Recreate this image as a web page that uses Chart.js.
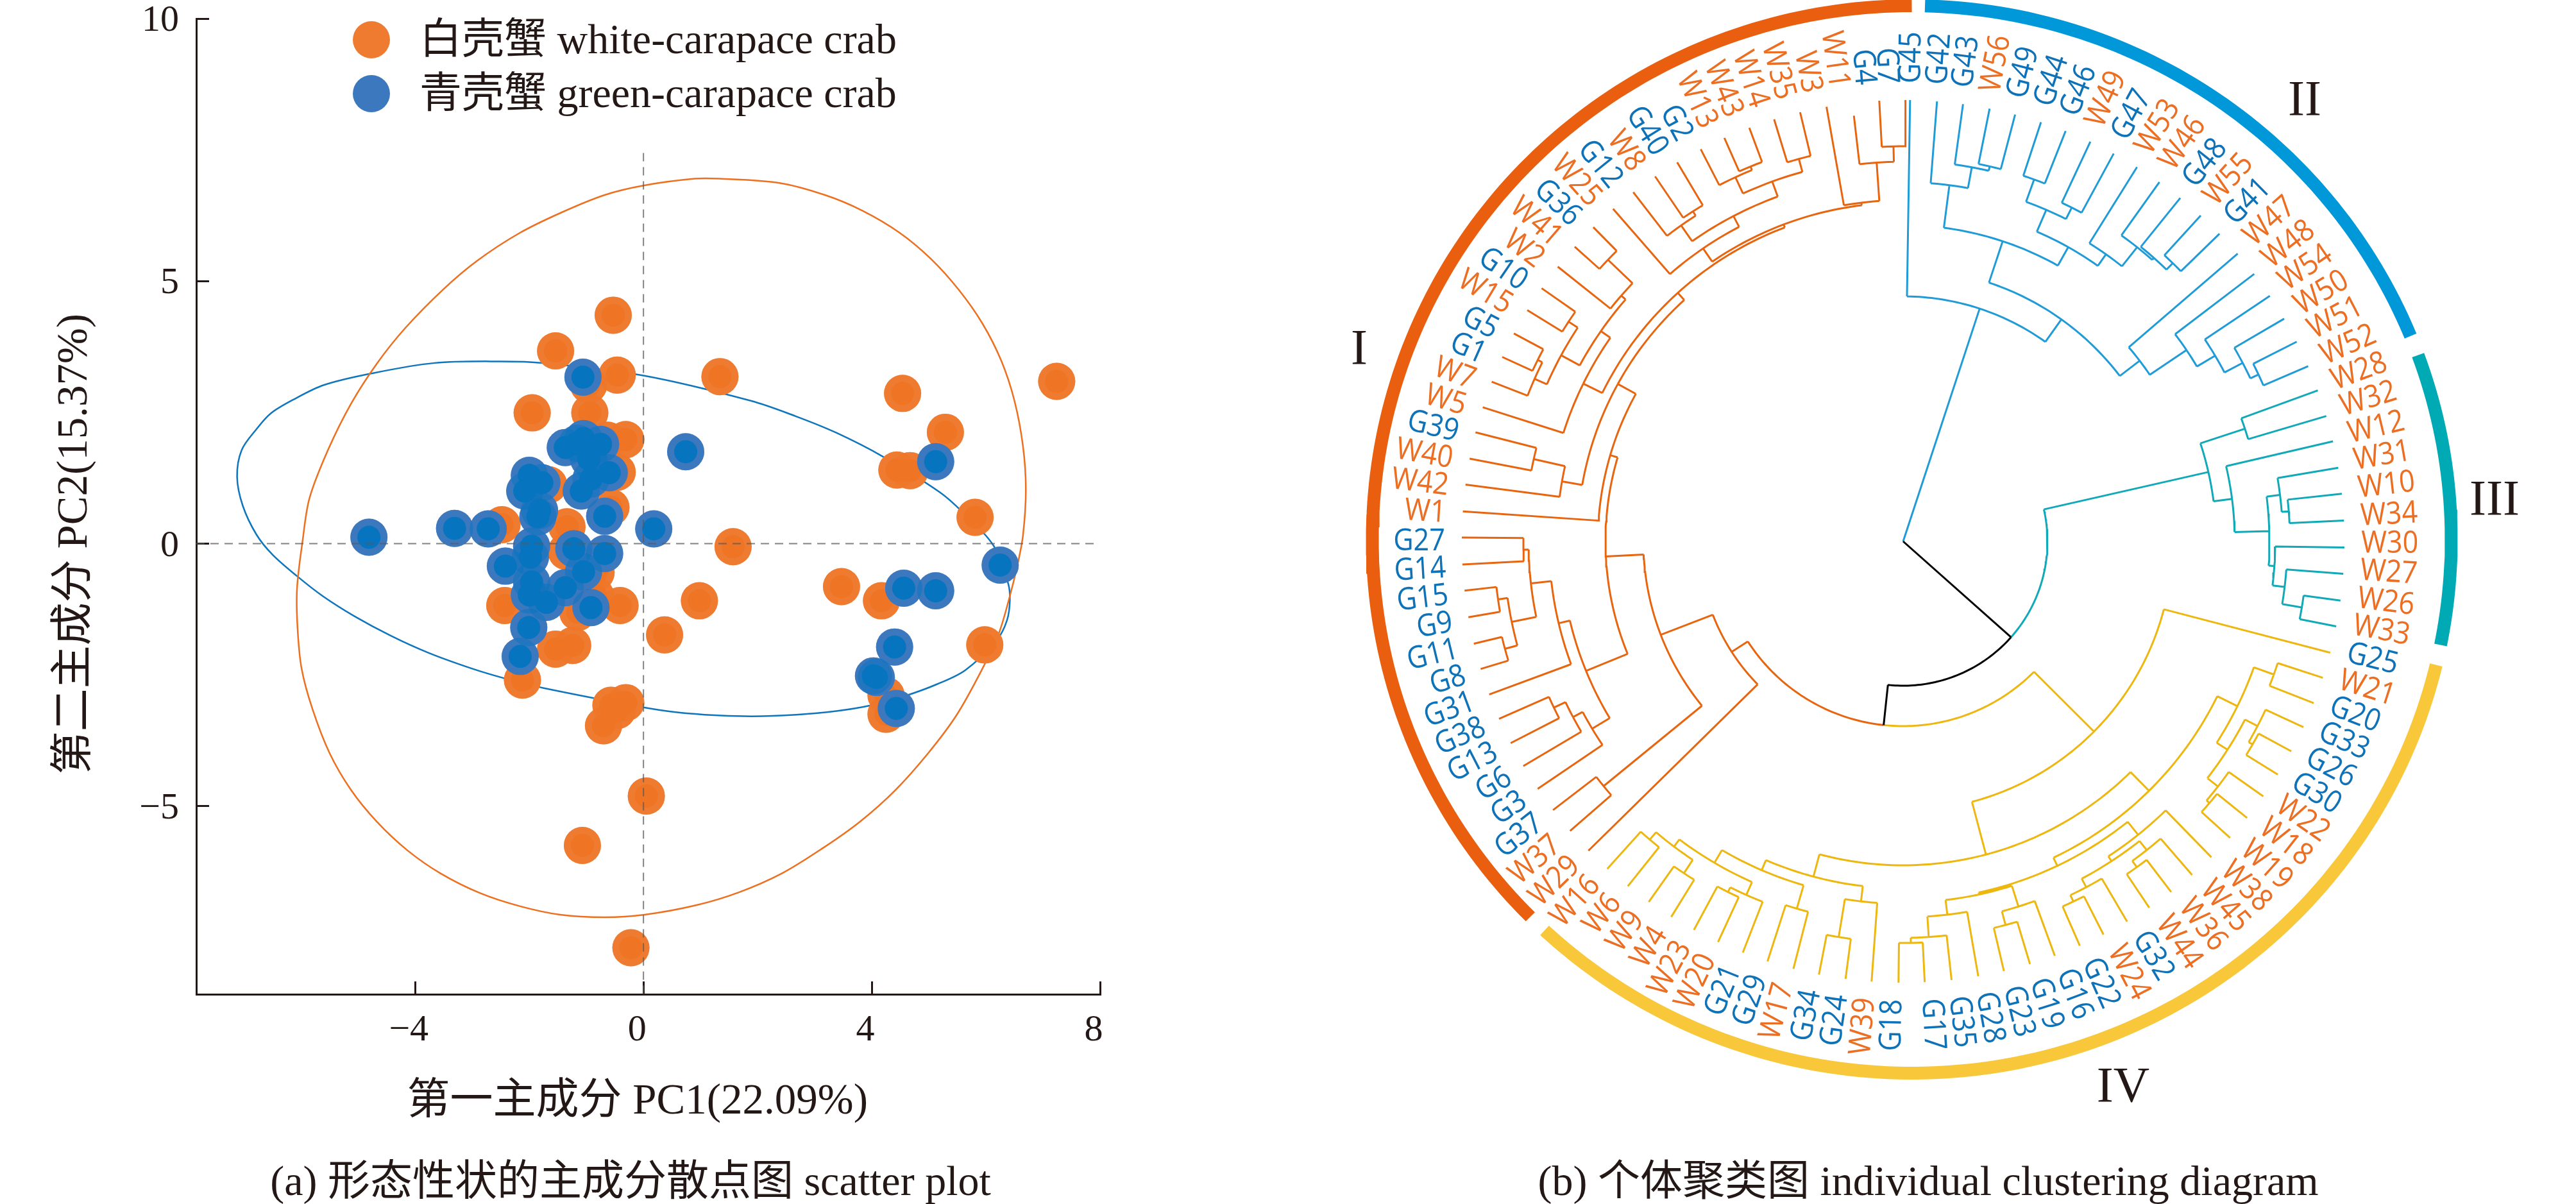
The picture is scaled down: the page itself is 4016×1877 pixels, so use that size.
<!DOCTYPE html>
<html lang="zh">
<head>
<meta charset="utf-8">
<title>形态性状的主成分散点图与个体聚类图</title>
<script src="https://cdn.jsdelivr.net/npm/chart.js@4"></script>
<style>
  html, body { margin: 0; background: #fff; }
  #page { position: relative; width: 4016px; height: 1877px; overflow: hidden; }
  canvas { position: absolute; top: 0; }
  #scatter { left: 0; }
  #tree { left: 2016px; }
  .caption {
    position: absolute; top: 1800px; transform: translateX(-50%); white-space: nowrap;
    font: 66px "Liberation Serif", "Noto Sans CJK SC"; line-height: 82px; color: #231815;
  }
</style>
</head>
<body>
<div id="page">
  <canvas id="scatter" width="2016" height="1877"></canvas>
  <canvas id="tree" width="2000" height="1877"></canvas>
  <div class="caption" style="left:983px">(a) 形态性状的主成分散点图 scatter plot</div>
  <div class="caption" style="left:3006px">(b) 个体聚类图 individual clustering diagram</div>
</div>
<script>
// Datos del gráfico (a)
const whiteX = [-0.53, -1.54, -0.46, 1.34, -0.96, -0.94, -1.95, -0.31, -0.63, -0.46, -1.66, -0.57, -2.48, -1.34, -1.35, 1.57, -0.83, 3.47, 4.17, 0.98, -0.41, -2.43, -1.15, 0.37, -1.54, -1.24, -2.12, 5.98, 5.81, 4.44, 4.67, 5.29, 4.54, 7.24, -0.31, -0.57, -0.46, -0.70, 0.05, -1.07, -0.22, 4.25, 4.25, -0.84];
const whiteY = [4.35, 3.67, 3.21, 3.18, 3.02, 2.49, 2.49, 1.98, 1.97, 1.36, 1.12, 0.69, 0.36, 0.32, -0.15, -0.06, -0.55, -0.82, -1.09, -1.09, -1.18, -1.18, -1.31, -1.74, -2.01, -1.94, -2.60, -1.93, 0.50, 1.40, 1.39, 2.12, 2.86, 3.09, -3.03, -3.08, -3.18, -3.47, -4.81, -5.75, -7.70, -2.89, -3.25, -0.99];
const greenX = [-4.81, -3.31, -2.72, -1.06, 0.74, 0.18, 5.12, 6.25, 4.56, 5.12, 4.40, 4.03, 4.08, 4.43, -1.37, -1.16, -1.05, -0.75, -0.96, -0.60, -0.92, -1.09, -2.00, -1.78, -2.08, -1.82, -1.85, -0.68, -1.96, -1.98, -1.22, -0.68, -2.42, -1.05, -1.37, -1.96, -2.00, -1.70, -0.92, -2.01, -2.16];
const greenY = [0.12, 0.29, 0.28, 3.17, 1.75, 0.28, 1.56, -0.41, -0.85, -0.90, -1.97, -2.52, -2.55, -3.14, 1.83, 1.91, 2.00, 1.89, 1.61, 1.35, 1.23, 1.00, 1.30, 1.16, 1.00, 0.63, 0.51, 0.52, -0.05, -0.26, -0.10, -0.19, -0.43, -0.54, -0.84, -0.73, -0.98, -1.12, -1.22, -1.60, -2.15];

// Contornos de las elipses
const whiteEllipseX = [1.33, 2.38, 3.18, 3.84, 4.49, 5.04, 5.52, 5.94, 6.27, 6.50, 6.65, 6.70, 6.65, 6.55, 6.40, 6.22, 5.94, 5.49, 4.99, 4.41, 3.79, 3.13, 2.43, 1.68, 0.92, 0.02, -0.68, -1.46, -2.16, -2.86, -3.56, -4.14, -4.67, -5.12, -5.50, -5.80, -5.99, -6.06, -6.07, -5.97, -5.85, -5.52, -5.12, -4.67, -4.17, -3.51, -2.91, -2.18, -1.43, -0.68, 0, 0.90];
const whiteEllipseY = [6.95, 6.87, 6.64, 6.34, 5.92, 5.42, 4.84, 4.19, 3.48, 2.72, 1.85, 1.03, 0.16, -0.42, -1.08, -1.73, -2.38, -3.26, -3.99, -4.70, -5.30, -5.81, -6.28, -6.64, -6.89, -7.07, -7.12, -7.07, -6.91, -6.66, -6.28, -5.84, -5.30, -4.70, -3.99, -3.15, -2.38, -1.62, -0.86, 0.07, 0.87, 1.80, 2.67, 3.43, 4.11, 4.84, 5.39, 5.91, 6.31, 6.64, 6.82, 6.95];
const greenEllipseX = [-7.04, -6.78, -6.53, -6.12, -5.60, -4.77, -3.66, -2.51, -1.76, 0, 1.88, 2.68, 3.38, 4.19, 5.19, 5.59, 6.14, 6.39, 6.42, 6.37, 6.19, 5.64, 5.14, 4.59, 3.99, 3.38, 2.68, 1.90, 1.07, 0.27, -1.76, -2.46, -3.01, -3.77, -4.42, -5.07, -5.62, -6.07, -6.50, -6.78, -7.02, -7.12];
const greenEllipseY = [1.78, 2.18, 2.48, 2.75, 3.02, 3.24, 3.44, 3.47, 3.44, 3.20, 2.72, 2.42, 2.11, 1.66, 0.98, 0.60, -0.05, -0.76, -1.08, -1.46, -1.84, -2.41, -2.68, -2.90, -3.08, -3.19, -3.26, -3.29, -3.26, -3.17, -2.75, -2.56, -2.38, -2.08, -1.76, -1.38, -1.00, -0.62, -0.21, 0.17, 0.72, 1.27];

const xTicks = [-4, 0, 4, 8];
const yTicks = [-5, 0, 5, 10];
const legendNames = ['白壳蟹 white-carapace crab', '青壳蟹 green-carapace crab'];

// Datos del gráfico (b): hojas en sentido horario, ángulos en grados desde el norte
const leafNames = ['G45', 'G42', 'G43', 'W56', 'G49', 'G44', 'G46', 'W49', 'G47', 'W53', 'W46', 'G48', 'W55', 'G41', 'W47', 'W48', 'W54', 'W50', 'W51', 'W52', 'W28', 'W32', 'W12', 'W31', 'W10', 'W34', 'W30', 'W27', 'W26', 'W33', 'G25', 'W21', 'G20', 'G33', 'G26', 'G30', 'W22', 'W18', 'W19', 'W38', 'W45', 'W36', 'W44', 'G32', 'W24', 'G22', 'G16', 'G19', 'G23', 'G28', 'G35', 'G17', 'G18', 'W39', 'G24', 'G34', 'W17', 'G29', 'G21', 'W20', 'W23', 'W4', 'W9', 'W6', 'W16', 'W29', 'W37', 'G37', 'G3', 'G6', 'G13', 'G38', 'G31', 'G8', 'G11', 'G9', 'G15', 'G14', 'G27', 'W1', 'W42', 'W40', 'G39', 'W5', 'W7', 'G1', 'G5', 'W15', 'G10', 'W2', 'W41', 'G36', 'W25', 'G12', 'W8', 'G40', 'G2', 'W13', 'W43', 'W14', 'W35', 'W3', 'W11', 'G4', 'G7'];
const leafAngles = [0.9, 4.4, 7.8, 11.3, 14.7, 18.2, 21.6, 25.1, 28.5, 32.0, 35.5, 38.9, 42.4, 45.8, 49.3, 52.7, 56.2, 59.7, 63.1, 66.6, 70.0, 73.5, 76.9, 80.4, 83.8, 87.3, 90.8, 94.2, 97.7, 101.1, 104.6, 108.0, 111.5, 114.9, 118.4, 121.9, 125.3, 128.8, 132.2, 135.7, 139.1, 142.6, 146.1, 149.5, 153.0, 156.4, 159.9, 163.3, 166.8, 170.2, 173.7, 177.2, 180.6, 184.1, 187.5, 191.0, 194.4, 197.9, 201.3, 204.8, 208.3, 211.7, 215.2, 218.6, 222.1, 225.5, 229.0, 232.5, 235.9, 239.4, 242.8, 246.3, 249.7, 253.2, 256.6, 260.1, 263.6, 267.0, 270.5, 273.9, 277.4, 280.8, 284.3, 287.7, 291.2, 294.7, 298.1, 301.6, 305.0, 308.5, 311.9, 315.4, 318.9, 322.3, 325.8, 329.2, 332.7, 336.1, 339.6, 343.0, 346.5, 350.0, 353.4, 356.9, 360.3];
const labelAngles = [1.0, 4.3, 7.5, 11, 14.4, 17.9, 21.3, 24.7, 28.2, 31.6, 35.1, 38.6, 42, 45.4, 48.9, 52.4, 55.8, 59.3, 62.7, 66.2, 69.6, 73, 76.5, 79.9, 83.4, 86.9, 90.3, 93.7, 97.2, 100.6, 104.1, 107.6, 111, 114.4, 117.9, 121.4, 124.8, 128.2, 131.7, 135.2, 138.6, 142, 145.5, 148.9, 152.4, 155.9, 159.3, 162.8, 166.2, 169.7, 173.1, 176.5, 181.3, 184.7, 188.1, 191.5, 195, 198.4, 201.8, 205.2, 208.6, 212, 215.4, 218.9, 222.3, 225.7, 229.1, 232.5, 235.9, 239.3, 242.8, 246.2, 249.6, 253, 256.4, 259.8, 263.2, 266.6, 270, 273.5, 276.9, 280.3, 283.7, 287.1, 290.5, 293.9, 297.3, 300.8, 304.2, 307.6, 311, 314.4, 317.8, 321.2, 324.6, 328, 331.5, 334.9, 338.3, 341.7, 345.1, 348.5, 351.9, 355.2, 358.0];

// Ramas: [altura, hijo, hijo]
const cladeI = [318, 'W29', [405,
  [603, 'W37', 'G37'],
  [464,
    [534,
      [566, 'G3', [583, 'G6', [603, 'G13', 'G38']]],
      [552, 'G31', [584, [623, [643, 'G8', 'G11'], [638, 'G9', 'G15']], [592, 'G14', 'G27']]]
    ],
    [476, 'W1', [508,
      [540, 'W42', [590, 'W40', 'G39']],
      [523,
        [556, 'W5', [574, [607, [628, 'W7', [636, 'G1', 'G5']], [624, 'W15', 'G10']], [583, 'W2', [636, 'W41', 'G36']]]],
        [528,
          [553, 'W25', [572, [602, 'G12', [610, 'W8', 'G40']], [597, [625, 'G2', [631, 'W13', 'W43']], [618, 'W14', 'W35']]]],
          [532, 'W3', [592, 'W11', [616, 'G4', 'G7']]]
        ]
      ]
    ]]
  ]
]];
const cladeII = [382, 'G45', [425,
  [493,
    [560, 'G42', [593, 'G43', [600, 'W56', 'G49']]],
    [526,
      [563, [600, 'G44', 'G46'], [583, 'W49', 'G47']],
      [548, 'W53', [586, 'W46', [590, 'G48', [604, 'W55', 'G41']]]]
    ]
  ],
  [464, 'W47', [533, 'W48', [566, 'W54', [598, 'W50', [612, 'W51', 'W52']]]]]
]];
const cladeIII = [488,
  [561, 'W28', 'W32'],
  [517, 'W12', [571, [592, 'W31', [603, 'W10', 'W34']], [580, 'W30', [599, 'W27', [630, 'W26', 'W33']]]]]
];
const cladeIV = [420, 'G25', [505,
  [546,
    [581, [614, 'W21', 'G20'], [601, [623, 'G33', [630, 'G26', 'G30']], [622, 'W22', [628, 'W18', 'W19']]]],
    [560,
      [586, 'W38', [595, [613, 'W45', [625, 'W36', 'W44']], [610, 'G32', [621, 'W24', 'G22']]]],
      [563,
        [597, 'G16', [619, 'G19', 'G23']],
        [586, 'G28', [618, 'G35', [626, 'G17', 'G18']]]
      ]
    ]
  ],
  [541,
    [565, 'W39', [625, 'G24', 'G34']],
    [558, [596, 'W17', 'G29'], [581, [603, 'G21', [611, 'W20', 'W23']], [595, [620, 'W4', 'W9'], [610, 'W6', 'W16']]]]
  ]
]];
const treeRoot = [0, cladeII, [225, cladeIII, [288, cladeIV, cladeI]]];
const leafTip = 688;
const shortLeaves = { W11: 668 };

// Arcos exteriores y sus rótulos
const rimNames = ['I', 'II', 'III', 'IV'];
const rimStart = [225, 1.4, 69.8, 103.6];
const rimEnd = [360, 67.6, 101.4, 222.9];
const rimLabelX = [-848, 626, 922, 343];
const rimLabelY = [297, 685, 62, -853];

const serif = '"Liberation Serif", "Noto Sans CJK SC"';
const inkColor = '#231815';
const whiteColor = '#EE7B30';
const greenColor = '#3C78BE';
const rimColors = ['#E95E0F', '#0098D8', '#00AAB5', '#F9C73A'];
const branchColors = ['#E8650F', '#1F9BD7', '#10A9B8', '#EDB70F'];
const cladeColor = new Map([[cladeI, branchColors[0]], [cladeII, branchColors[1]], [cladeIII, branchColors[2]], [cladeIV, branchColors[3]]]);

const zip = (xs, ys) => xs.map((x, i) => ({ x: x, y: ys[i] }));

// Gráfico (a)
const xMin = -7.835;
const yMin = -8.585;

const dots = (xs, ys, color, radius, order, label) => ({
  label: label,
  data: zip(xs, ys),
  order: order,
  backgroundColor: color,
  borderWidth: 0,
  pointRadius: radius
});

const outline = (xs, ys, color, order) => ({
  data: zip(xs, ys),
  order: order,
  showLine: true,
  borderColor: color,
  borderWidth: 2.5,
  tension: 0.33,
  pointRadius: 0,
  fill: false,
  // el primer y el último tramo solo sirven para que la curva cierre sin esquina
  segment: {
    borderColor: (ctx) => (ctx.p0DataIndex === 0 || ctx.p1DataIndex === xs.length - 1 ? 'transparent' : undefined)
  }
});
const closeLine = (a) => [a[a.length - 1], ...a, a[0], a[1]];

const dashed = (xs, ys) => ({
  data: zip(xs, ys),
  order: 0,
  showLine: true,
  borderColor: 'rgba(90,90,90,0.75)',
  borderWidth: 2,
  borderDash: [13, 9],
  pointRadius: 0
});

const legendPlugin = {
  id: 'crabLegend',
  afterDraw(chart) {
    const ctx = chart.ctx;
    const rows = [[whiteColor, 62], [greenColor, 146]];
    ctx.save();
    ctx.font = '66px ' + serif;
    ctx.textBaseline = 'middle';
    rows.forEach((row, i) => {
      ctx.fillStyle = row[0];
      ctx.beginPath();
      ctx.arc(579, row[1], 29, 0, Math.PI * 2);
      ctx.fill();
      ctx.fillStyle = inkColor;
      ctx.fillText(legendNames[i], 654, row[1] + 4);
    });
    ctx.restore();
  }
};

new Chart(document.getElementById('scatter'), {
  type: 'scatter',
  data: {
    datasets: [
      dashed([0, 0], [7.44, yMin]),
      dashed([xMin, 7.95], [0, 0]),
      // cada punto: núcleo, capa translúcida (oscurece donde se solapan) y base opaca
      dots(greenX, greenY, '#0674BF', 18, 1, 'núcleo verde'),
      dots(greenX, greenY, 'rgba(6,116,191,0.5)', 29, 2, 'capa verde'),
      dots(greenX, greenY, '#727CBD', 29, 3, legendNames[1]),
      dots(whiteX, whiteY, '#EF7424', 18, 4, 'núcleo blanco'),
      dots(whiteX, whiteY, 'rgba(239,116,36,0.5)', 29, 5, 'capa blanca'),
      dots(whiteX, whiteY, '#ED823C', 29, 6, legendNames[0]),
      outline(closeLine(whiteEllipseX), closeLine(whiteEllipseY), '#EC7020', 7),
      outline(closeLine(greenEllipseX), closeLine(greenEllipseY), '#0F75BC', 8)
    ]
  },
  options: {
    responsive: false,
    devicePixelRatio: 1,
    animation: false,
    layout: { padding: { top: 26, right: 301, left: 0, bottom: 0 } },
    plugins: { legend: { display: false }, tooltip: { enabled: false } },
    scales: {
      x: {
        type: 'linear',
        min: xMin,
        max: 8,
        afterFit: (scale) => { scale.height = 327; scale.paddingLeft = 0; scale.paddingRight = 0; },
        afterBuildTicks: (scale) => { scale.ticks = xTicks.map(v => ({ value: v })); },
        border: { color: inkColor, width: 3 },
        grid: { drawOnChartArea: false, color: inkColor, lineWidth: 3, tickLength: -20 },
        ticks: {
          padding: 42,
          labelOffset: -10,
          maxRotation: 0,
          color: inkColor,
          font: { family: serif, size: 58 },
          callback: (v) => String(v).replace('-', '\u2212')
        },
        title: {
          display: true,
          text: '第一主成分 PC1(22.09%)\u00a0\u00a0',
          color: inkColor,
          font: { family: serif, size: 67 },
          padding: { top: 0, bottom: 118 }
        }
      },
      y: {
        type: 'linear',
        min: yMin,
        max: 10,
        // sin esto el margen de las etiquetas baja el eje
        afterFit: (scale) => { scale.width = 306; scale.paddingTop = 0; scale.paddingBottom = 0; },
        afterBuildTicks: (scale) => { scale.ticks = yTicks.map(v => ({ value: v })); },
        border: { color: inkColor, width: 3 },
        grid: { drawOnChartArea: false, color: inkColor, lineWidth: 3, tickLength: -20 },
        ticks: {
          padding: 47,
          labelOffset: 4,
          color: inkColor,
          font: { family: serif, size: 58 },
          callback: (v) => String(v).replace('-', '\u2212')
        },
        title: {
          display: true,
          text: '第二主成分 PC2(15.37%)' + '\u00a0'.repeat(7),
          color: inkColor,
          font: { family: serif, size: 67 },
          padding: { top: 77, bottom: 0 }
        }
      }
    }
  },
  plugins: [legendPlugin]
});

// Gráfico (b): el centro del árbol es (0,0) en las escalas
const rad = (deg) => deg * Math.PI / 180;
const polar = (r, deg) => ({ x: r * Math.sin(rad(deg)), y: r * Math.cos(rad(deg)) });

const paths = new Map();
const pathFor = (color) => {
  if (!paths.has(color)) paths.set(color, []);
  return paths.get(color);
};
const gap = { x: NaN, y: NaN };

function addRadial(color, deg, r1, r2) {
  pathFor(color).push(polar(r1, deg), polar(r2, deg), gap);
}

function addArc(color, r, a1, a2) {
  const path = pathFor(color);
  const steps = Math.max(1, Math.ceil(Math.abs(a2 - a1)));
  for (let i = 0; i <= steps; i++) {
    path.push(polar(r, a1 + (a2 - a1) * i / steps));
  }
  path.push(gap);
}

function place(node) {
  if (typeof node === 'string') {
    return { name: node, angle: leafAngles[leafNames.indexOf(node)], r: shortLeaves[node] || leafTip, source: node };
  }
  const a = place(node[1]);
  const b = place(node[2]);
  return { r: node[0], angle: (a.angle + b.angle) / 2, a: a, b: b, source: node };
}

function drawNode(node, parentR, inherited) {
  const color = cladeColor.get(node.source) || inherited;
  addRadial(color, node.angle, parentR, node.r);
  if (!node.a) return color;
  const colorA = drawNode(node.a, node.r, color);
  const colorB = drawNode(node.b, node.r, color);
  addArc(colorA, node.r, node.a.angle, node.angle);
  addArc(colorB, node.r, node.angle, node.b.angle);
  return color;
}

const placedRoot = place(treeRoot);
drawNode(placedRoot, 0, '#000000');

const treeDatasets = [...paths.entries()].map(([color, points]) => ({
  data: points,
  showLine: true,
  borderColor: color,
  borderWidth: 3,
  pointRadius: 0
}));

// Los arcos exteriores tienen su propio centro, algo desplazado respecto al árbol
const rimCenter = { x: 13.5, y: 3 };
const rimRadiusX = 841;
const rimRadiusY = 832;
const rimDatasets = rimNames.map((name, i) => {
  const points = [];
  for (let a = rimStart[i]; a < rimEnd[i]; a += 1) {
    points.push({ x: rimCenter.x + rimRadiusX * Math.sin(rad(a)), y: rimCenter.y + rimRadiusY * Math.cos(rad(a)) });
  }
  points.push({ x: rimCenter.x + rimRadiusX * Math.sin(rad(rimEnd[i])), y: rimCenter.y + rimRadiusY * Math.cos(rad(rimEnd[i])) });
  return {
    label: name,
    data: points,
    showLine: true,
    borderColor: rimColors[i],
    borderWidth: 20,
    pointRadius: 0
  };
});

const labelsPlugin = {
  id: 'leafLabels',
  afterDatasetsDraw(chart) {
    const ctx = chart.ctx;
    const sx = chart.scales.x;
    const sy = chart.scales.y;
    ctx.save();
    ctx.font = '48px "Open Sans"';
    ctx.textBaseline = 'middle';
    leafNames.forEach((name, i) => {
      const deg = labelAngles[i];
      const p = polar(714, deg);
      const right = deg < 180;
      ctx.save();
      ctx.translate(sx.getPixelForValue(p.x), sy.getPixelForValue(p.y));
      ctx.rotate(rad(right ? deg - 90 : deg + 90));
      ctx.scale(0.9, 1); // la fuente original es más estrecha
      ctx.textAlign = right ? 'left' : 'right';
      ctx.fillStyle = name[0] === 'W' ? '#EB6E22' : '#0E72B8';
      ctx.fillText(name, 0, 0);
      ctx.restore();
    });
    ctx.font = '78px ' + serif;
    ctx.textAlign = 'center';
    ctx.fillStyle = inkColor;
    rimNames.forEach((name, i) => {
      ctx.fillText(name, sx.getPixelForValue(rimLabelX[i]), sy.getPixelForValue(rimLabelY[i]));
    });
    ctx.restore();
  }
};

new Chart(document.getElementById('tree'), {
  type: 'scatter',
  data: { datasets: treeDatasets.concat(rimDatasets) },
  options: {
    responsive: false,
    devicePixelRatio: 1,
    animation: false,
    plugins: { legend: { display: false }, tooltip: { enabled: false } },
    scales: {
      x: { type: 'linear', display: false, min: -951, max: 1049 },
      y: { type: 'linear', display: false, min: -1033, max: 844 }
    }
  },
  plugins: [labelsPlugin]
});
</script>
</body>
</html>
